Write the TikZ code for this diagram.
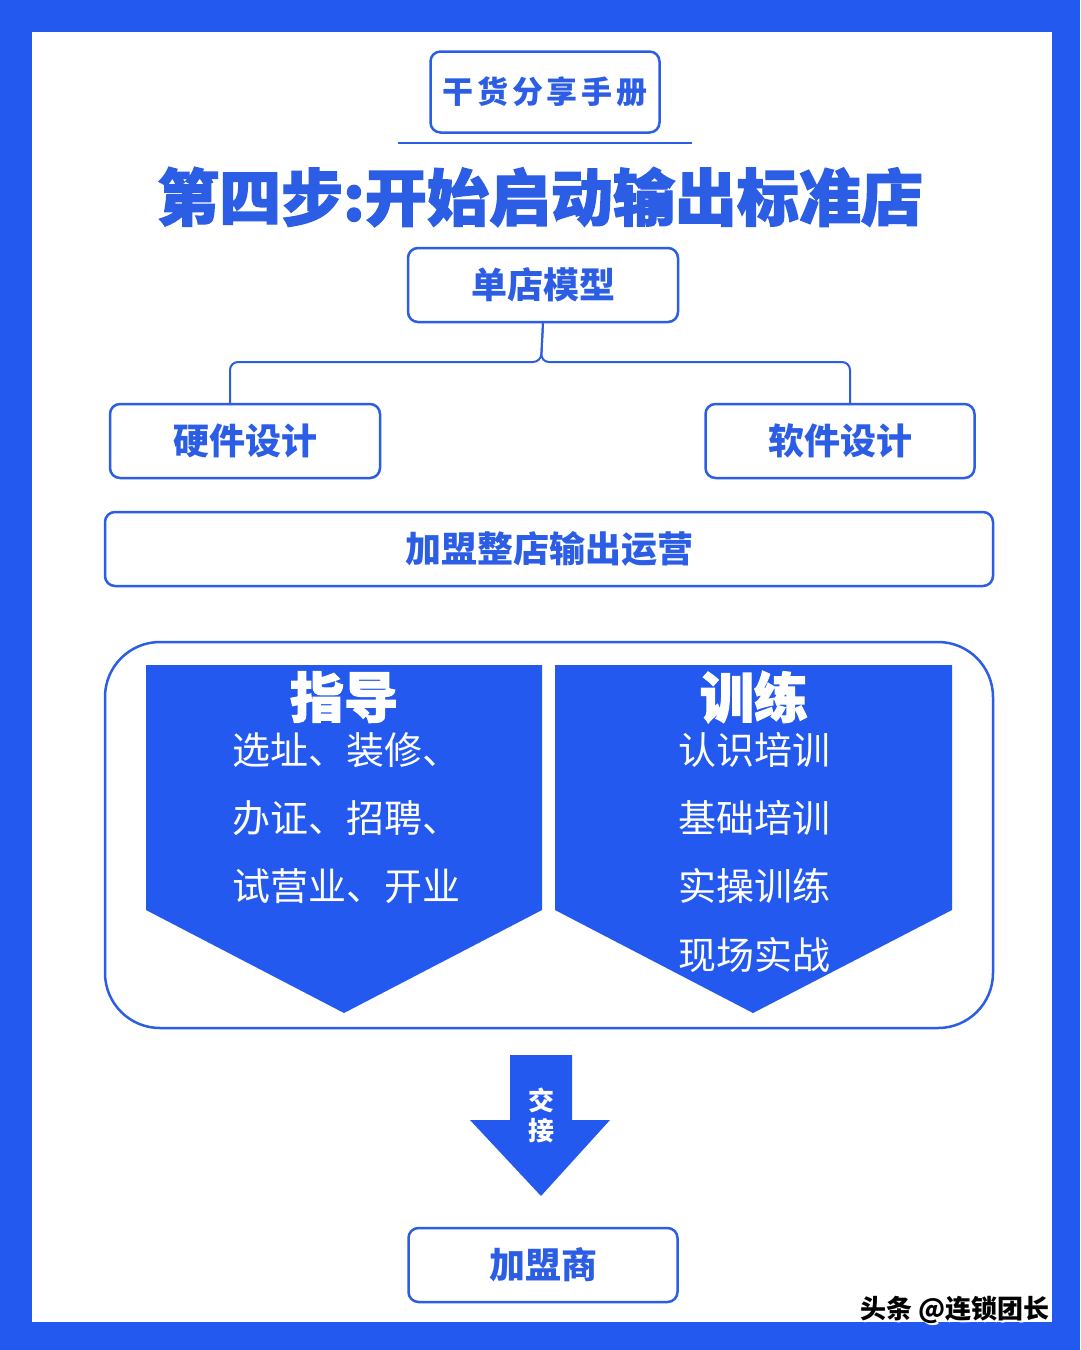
\documentclass[tikz,border=0pt]{standalone}
\usepackage{fontspec}
\usepackage{xcolor}
\usepackage{tikz}
\usetikzlibrary{positioning}

\newfontfamily\cjk{Noto Sans CJK SC}
\newfontfamily\cjkheavy[BoldFeatures={FakeBold=2}]{Noto Sans CJK SC}
\newfontfamily\cjkwide[LetterSpace=12]{Noto Sans CJK SC}

\definecolor{brandblue}{HTML}{2459F0}
\definecolor{inkblue}{HTML}{2C5DE5}

\begin{document}
\begin{tikzpicture}[x=1pt, y=-1pt,
    card/.style={draw=inkblue, line width=2.5pt, rounded corners=10pt, fill=white, inner sep=0pt},
    cardtext/.style={text=inkblue, font=\cjk\bfseries\fontsize{36}{40}\selectfont},
    listline/.style={text=white, anchor=west, inner sep=0pt, font=\cjk\fontsize{38}{44}\selectfont},
    headline/.style={text=white, inner sep=0pt, font=\cjkheavy\bfseries\fontsize{54}{60}\selectfont},
    link/.style={draw=inkblue, line width=2pt, rounded corners=8pt}]
    \useasboundingbox (0,0) rectangle (1080,1350);

    % Frame
    \fill[brandblue] (0,0) rectangle (1080,1350);
    \fill[white] (32,32) rectangle (1052,1322);

    % Heading
    \node[card, text=inkblue, font=\cjkwide\bfseries\fontsize{31}{36}\selectfont,
        minimum width=229, minimum height=81] (tag) at (545,92) {干货分享手册};
    \draw[inkblue, line width=2pt] (398,143) -- (692,143);
    \node[text=inkblue, inner sep=0pt, font=\cjkheavy\bfseries\fontsize{62}{70}\selectfont] (title) at (540,197) {第四步:开始启动输出标准店};

    % Model tree
    \node[card, cardtext, minimum width=270, minimum height=74] (model) at (543,285) {单店模型};
    \node[card, cardtext, minimum width=270, minimum height=74] (hard) at (245,441) {硬件设计};
    \node[card, cardtext, minimum width=269, minimum height=74] (soft) at (840,441) {软件设计};
    \coordinate (fork) at (541,362);
    \draw[link] (model.south) -- (fork) -| (230,405);
    \draw[link] (model.south) -- (fork) -| (850,405);

    \node[card, cardtext, minimum width=888, minimum height=74] (franchise) at (549,549) {加盟整店输出运营};

    % Guidance and training
    \draw[inkblue, line width=2.5pt, rounded corners=55pt] (105,642) rectangle (993,1028);
    \fill[brandblue] (146,665) -- (542,665) -- (542,910) -- (344,1013) -- (146,910) -- cycle;
    \fill[brandblue] (555,665) -- (952,665) -- (952,910) -- (753,1013) -- (555,910) -- cycle;

    \node[headline] (guide) at (344,697) {指导};
    \node[listline] (guideA) at (232,750) {选址、装修、};
    \node[listline] (guideB) at (232,818) {办证、招聘、};
    \node[listline] (guideC) at (232,886) {试营业、开业};

    \node[headline] (train) at (754,697) {训练};
    \node[listline] (trainA) at (678,750) {认识培训};
    \node[listline] (trainB) at (678,818) {基础培训};
    \node[listline] (trainC) at (678,886) {实操训练};
    \node[listline] (trainD) at (678,955) {现场实战};

    % Hand-over arrow
    \fill[brandblue] (510,1055) -- (572,1055) -- (572,1120) -- (610,1120) -- (541,1196) -- (470,1120) -- (510,1120) -- cycle;
    \node[text=white, inner sep=0pt, font=\cjk\bfseries\fontsize{26}{30}\selectfont] (handA) at (541,1100) {交};
    \node[text=white, inner sep=0pt, font=\cjk\bfseries\fontsize{26}{30}\selectfont] (handB) at (541,1131) {接};

    \node[card, cardtext, minimum width=269, minimum height=74] (partner) at (543,1265) {加盟商};

    % Watermark
    \node[text=white, inner sep=0pt, font=\cjk\bfseries\fontsize{26}{30}\selectfont] (markshade) at (957,1312) {头条 @连锁团长};
    \node[text=black, inner sep=0pt, font=\cjk\bfseries\fontsize{26}{30}\selectfont] (mark) at (955,1310) {头条 @连锁团长};
\end{tikzpicture}
\end{document}
